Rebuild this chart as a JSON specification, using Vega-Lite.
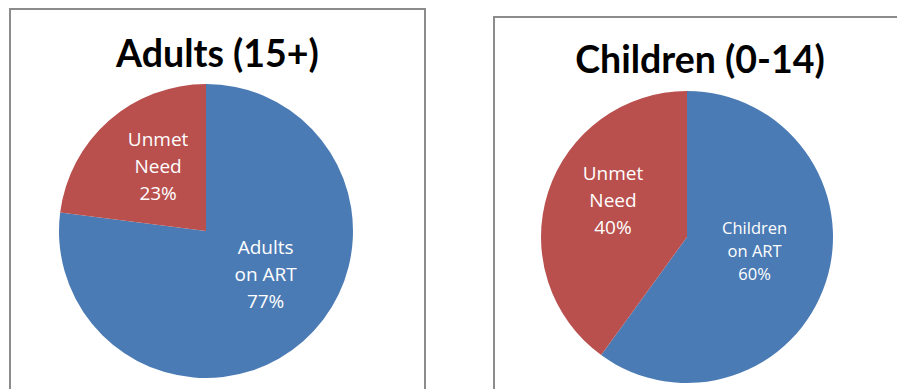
{
  "$schema": "https://vega.github.io/schema/vega-lite/v6.json",
  "background": "white",
  "padding": {"left": 9, "top": 8, "right": 0, "bottom": 0},
  "config": {
    "title": {"font": "Lato", "fontSize": 37.5, "fontWeight": "bold", "color": "black", "anchor": "middle", "baseline": "alphabetic"},
    "concat": {"spacing": 67}
  },
  "datasets": {
    "adults": [
      {"type": "On ART", "rank": 1, "value": 77, "label": "Adults\non ART\n77%"},
      {"type": "Unmet Need", "rank": 2, "value": 23, "label": "Unmet\nNeed\n23%"}
    ],
    "children": [
      {"type": "On ART", "rank": 1, "value": 60, "label": "Children\non ART\n60%"},
      {"type": "Unmet Need", "rank": 2, "value": 40, "label": "Unmet\nNeed\n40%"}
    ]
  },
  "hconcat": [
    {
      "width": 415,
      "height": 444,
      "view": {"stroke": "#8c8c8c", "strokeWidth": 2},
      "title": {"text": "Adults (15+)", "offset": -65},
      "data": {"name": "adults"},
      "encoding": {
        "theta": {"field": "value", "type": "quantitative", "stack": true},
        "order": {"field": "rank", "type": "quantitative"}
      },
      "layer": [
        {
          "mark": {"type": "arc", "outerRadius": 147, "xOffset": -11.5},
          "encoding": {
            "color": {"field": "type", "type": "nominal", "legend": null,
              "scale": {"domain": ["On ART", "Unmet Need"], "range": ["#4b7bb4", "#b9504e"]}}
          }
        },
        {
          "mark": {"type": "text", "radius": 80, "xOffset": -11.5, "dx": 5, "dy": -31, "font": "Open Sans", "fontSize": 19, "lineHeight": 27, "lineBreak": "\n", "color": "white", "align": "center", "baseline": "middle"},
          "encoding": {"text": {"condition": {"test": "datum.type == 'Unmet Need'", "field": "label"}, "value": ""}}
        },
        {
          "mark": {"type": "text", "radius": 72, "xOffset": -11.5, "dx": 12, "dy": -37, "font": "Open Sans", "fontSize": 19, "lineHeight": 27, "lineBreak": "\n", "color": "white", "align": "center", "baseline": "middle"},
          "encoding": {"text": {"condition": {"test": "datum.type == 'On ART'", "field": "label"}, "value": ""}}
        }
      ]
    },
    {
      "spacing": 6,
      "vconcat": [
        {
          "width": 10,
          "height": 1,
          "view": {"stroke": null},
          "data": {"values": []},
          "mark": "text"
        },
        {
          "width": 412,
          "height": 440,
          "view": {"stroke": "#8c8c8c", "strokeWidth": 2},
          "title": {"text": "Children (0-14)", "offset": -63},
          "data": {"name": "children"},
          "encoding": {
            "theta": {"field": "value", "type": "quantitative", "stack": true},
            "order": {"field": "rank", "type": "quantitative"}
          },
          "layer": [
            {
              "mark": {"type": "arc", "outerRadius": 146, "xOffset": -13},
              "encoding": {
                "color": {"field": "type", "type": "nominal", "legend": null,
                  "scale": {"domain": ["On ART", "Unmet Need"], "range": ["#4b7bb4", "#b9504e"]}}
              }
            },
            {
              "mark": {"type": "text", "radius": 81, "xOffset": -13, "dx": 3, "dy": -38, "font": "Open Sans", "fontSize": 19, "lineHeight": 27, "lineBreak": "\n", "color": "white", "align": "center", "baseline": "middle"},
              "encoding": {"text": {"condition": {"test": "datum.type == 'Unmet Need'", "field": "label"}, "value": ""}}
            },
            {
              "mark": {"type": "text", "radius": 69, "xOffset": -13, "dx": 2, "dy": -29, "font": "Open Sans", "fontSize": 16.5, "lineHeight": 23, "lineBreak": "\n", "color": "white", "align": "center", "baseline": "middle"},
              "encoding": {"text": {"condition": {"test": "datum.type == 'On ART'", "field": "label"}, "value": ""}}
            }
          ]
        }
      ]
    }
  ]
}
